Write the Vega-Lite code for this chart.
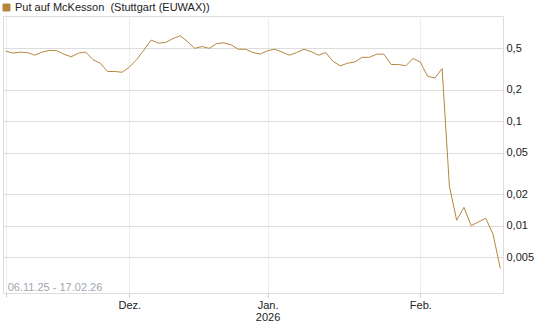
{
  "$schema": "https://vega.github.io/schema/vega-lite/v6.json",
  "width": 500,
  "height": 277,
  "autosize": "none",
  "padding": {"left": 3, "top": 16, "right": 42, "bottom": 34},
  "background": "white",
  "config": {
    "font": "Liberation Sans",
    "view": {"stroke": "#dddddd"}
  },
  "layer": [
    {
      "data": {
        "values": [
          {"date": "2025-11-06", "value": 0.47, "name": "Put auf McKesson\u00a0 (Stuttgart (EUWAX))"},
          {"date": "2025-11-07", "value": 0.45, "name": "Put auf McKesson\u00a0 (Stuttgart (EUWAX))"},
          {"date": "2025-11-10", "value": 0.46, "name": "Put auf McKesson\u00a0 (Stuttgart (EUWAX))"},
          {"date": "2025-11-11", "value": 0.455, "name": "Put auf McKesson\u00a0 (Stuttgart (EUWAX))"},
          {"date": "2025-11-12", "value": 0.43, "name": "Put auf McKesson\u00a0 (Stuttgart (EUWAX))"},
          {"date": "2025-11-13", "value": 0.46, "name": "Put auf McKesson\u00a0 (Stuttgart (EUWAX))"},
          {"date": "2025-11-14", "value": 0.478, "name": "Put auf McKesson\u00a0 (Stuttgart (EUWAX))"},
          {"date": "2025-11-17", "value": 0.475, "name": "Put auf McKesson\u00a0 (Stuttgart (EUWAX))"},
          {"date": "2025-11-18", "value": 0.44, "name": "Put auf McKesson\u00a0 (Stuttgart (EUWAX))"},
          {"date": "2025-11-19", "value": 0.415, "name": "Put auf McKesson\u00a0 (Stuttgart (EUWAX))"},
          {"date": "2025-11-20", "value": 0.45, "name": "Put auf McKesson\u00a0 (Stuttgart (EUWAX))"},
          {"date": "2025-11-21", "value": 0.46, "name": "Put auf McKesson\u00a0 (Stuttgart (EUWAX))"},
          {"date": "2025-11-24", "value": 0.39, "name": "Put auf McKesson\u00a0 (Stuttgart (EUWAX))"},
          {"date": "2025-11-25", "value": 0.36, "name": "Put auf McKesson\u00a0 (Stuttgart (EUWAX))"},
          {"date": "2025-11-26", "value": 0.30, "name": "Put auf McKesson\u00a0 (Stuttgart (EUWAX))"},
          {"date": "2025-11-27", "value": 0.30, "name": "Put auf McKesson\u00a0 (Stuttgart (EUWAX))"},
          {"date": "2025-11-28", "value": 0.295, "name": "Put auf McKesson\u00a0 (Stuttgart (EUWAX))"},
          {"date": "2025-12-01", "value": 0.33, "name": "Put auf McKesson\u00a0 (Stuttgart (EUWAX))"},
          {"date": "2025-12-02", "value": 0.39, "name": "Put auf McKesson\u00a0 (Stuttgart (EUWAX))"},
          {"date": "2025-12-03", "value": 0.48, "name": "Put auf McKesson\u00a0 (Stuttgart (EUWAX))"},
          {"date": "2025-12-04", "value": 0.60, "name": "Put auf McKesson\u00a0 (Stuttgart (EUWAX))"},
          {"date": "2025-12-05", "value": 0.56, "name": "Put auf McKesson\u00a0 (Stuttgart (EUWAX))"},
          {"date": "2025-12-08", "value": 0.57, "name": "Put auf McKesson\u00a0 (Stuttgart (EUWAX))"},
          {"date": "2025-12-09", "value": 0.62, "name": "Put auf McKesson\u00a0 (Stuttgart (EUWAX))"},
          {"date": "2025-12-10", "value": 0.66, "name": "Put auf McKesson\u00a0 (Stuttgart (EUWAX))"},
          {"date": "2025-12-11", "value": 0.58, "name": "Put auf McKesson\u00a0 (Stuttgart (EUWAX))"},
          {"date": "2025-12-12", "value": 0.50, "name": "Put auf McKesson\u00a0 (Stuttgart (EUWAX))"},
          {"date": "2025-12-15", "value": 0.52, "name": "Put auf McKesson\u00a0 (Stuttgart (EUWAX))"},
          {"date": "2025-12-16", "value": 0.50, "name": "Put auf McKesson\u00a0 (Stuttgart (EUWAX))"},
          {"date": "2025-12-17", "value": 0.555, "name": "Put auf McKesson\u00a0 (Stuttgart (EUWAX))"},
          {"date": "2025-12-18", "value": 0.565, "name": "Put auf McKesson\u00a0 (Stuttgart (EUWAX))"},
          {"date": "2025-12-19", "value": 0.54, "name": "Put auf McKesson\u00a0 (Stuttgart (EUWAX))"},
          {"date": "2025-12-22", "value": 0.49, "name": "Put auf McKesson\u00a0 (Stuttgart (EUWAX))"},
          {"date": "2025-12-23", "value": 0.49, "name": "Put auf McKesson\u00a0 (Stuttgart (EUWAX))"},
          {"date": "2025-12-29", "value": 0.455, "name": "Put auf McKesson\u00a0 (Stuttgart (EUWAX))"},
          {"date": "2025-12-30", "value": 0.44, "name": "Put auf McKesson\u00a0 (Stuttgart (EUWAX))"},
          {"date": "2026-01-02", "value": 0.475, "name": "Put auf McKesson\u00a0 (Stuttgart (EUWAX))"},
          {"date": "2026-01-05", "value": 0.49, "name": "Put auf McKesson\u00a0 (Stuttgart (EUWAX))"},
          {"date": "2026-01-06", "value": 0.46, "name": "Put auf McKesson\u00a0 (Stuttgart (EUWAX))"},
          {"date": "2026-01-07", "value": 0.43, "name": "Put auf McKesson\u00a0 (Stuttgart (EUWAX))"},
          {"date": "2026-01-08", "value": 0.455, "name": "Put auf McKesson\u00a0 (Stuttgart (EUWAX))"},
          {"date": "2026-01-09", "value": 0.49, "name": "Put auf McKesson\u00a0 (Stuttgart (EUWAX))"},
          {"date": "2026-01-12", "value": 0.465, "name": "Put auf McKesson\u00a0 (Stuttgart (EUWAX))"},
          {"date": "2026-01-13", "value": 0.43, "name": "Put auf McKesson\u00a0 (Stuttgart (EUWAX))"},
          {"date": "2026-01-14", "value": 0.455, "name": "Put auf McKesson\u00a0 (Stuttgart (EUWAX))"},
          {"date": "2026-01-15", "value": 0.375, "name": "Put auf McKesson\u00a0 (Stuttgart (EUWAX))"},
          {"date": "2026-01-16", "value": 0.34, "name": "Put auf McKesson\u00a0 (Stuttgart (EUWAX))"},
          {"date": "2026-01-19", "value": 0.36, "name": "Put auf McKesson\u00a0 (Stuttgart (EUWAX))"},
          {"date": "2026-01-20", "value": 0.37, "name": "Put auf McKesson\u00a0 (Stuttgart (EUWAX))"},
          {"date": "2026-01-21", "value": 0.41, "name": "Put auf McKesson\u00a0 (Stuttgart (EUWAX))"},
          {"date": "2026-01-22", "value": 0.41, "name": "Put auf McKesson\u00a0 (Stuttgart (EUWAX))"},
          {"date": "2026-01-23", "value": 0.44, "name": "Put auf McKesson\u00a0 (Stuttgart (EUWAX))"},
          {"date": "2026-01-26", "value": 0.44, "name": "Put auf McKesson\u00a0 (Stuttgart (EUWAX))"},
          {"date": "2026-01-27", "value": 0.35, "name": "Put auf McKesson\u00a0 (Stuttgart (EUWAX))"},
          {"date": "2026-01-28", "value": 0.35, "name": "Put auf McKesson\u00a0 (Stuttgart (EUWAX))"},
          {"date": "2026-01-29", "value": 0.34, "name": "Put auf McKesson\u00a0 (Stuttgart (EUWAX))"},
          {"date": "2026-01-30", "value": 0.40, "name": "Put auf McKesson\u00a0 (Stuttgart (EUWAX))"},
          {"date": "2026-02-02", "value": 0.37, "name": "Put auf McKesson\u00a0 (Stuttgart (EUWAX))"},
          {"date": "2026-02-03", "value": 0.27, "name": "Put auf McKesson\u00a0 (Stuttgart (EUWAX))"},
          {"date": "2026-02-04", "value": 0.26, "name": "Put auf McKesson\u00a0 (Stuttgart (EUWAX))"},
          {"date": "2026-02-05", "value": 0.32, "name": "Put auf McKesson\u00a0 (Stuttgart (EUWAX))"},
          {"date": "2026-02-06", "value": 0.024, "name": "Put auf McKesson\u00a0 (Stuttgart (EUWAX))"},
          {"date": "2026-02-09", "value": 0.0113, "name": "Put auf McKesson\u00a0 (Stuttgart (EUWAX))"},
          {"date": "2026-02-10", "value": 0.015, "name": "Put auf McKesson\u00a0 (Stuttgart (EUWAX))"},
          {"date": "2026-02-11", "value": 0.010, "name": "Put auf McKesson\u00a0 (Stuttgart (EUWAX))"},
          {"date": "2026-02-12", "value": 0.0109, "name": "Put auf McKesson\u00a0 (Stuttgart (EUWAX))"},
          {"date": "2026-02-13", "value": 0.0118, "name": "Put auf McKesson\u00a0 (Stuttgart (EUWAX))"},
          {"date": "2026-02-16", "value": 0.0083, "name": "Put auf McKesson\u00a0 (Stuttgart (EUWAX))"},
          {"date": "2026-02-17", "value": 0.0039, "name": "Put auf McKesson\u00a0 (Stuttgart (EUWAX))"}
        ]
      },
      "mark": {"type": "line", "strokeWidth": 1, "interpolate": "linear"},
      "encoding": {
        "x": {
          "field": "date",
          "type": "ordinal",
          "scale": {"type": "point", "padding": 0.37},
          "axis": {
            "title": null,
            "values": ["2025-11-06", "2025-12-01", "2026-01-02", "2026-02-02"],
            "labelExpr": "datum.value == '2025-12-01' ? 'Dez.' : datum.value == '2026-01-02' ? ['Jan.', '2026'] : datum.value == '2026-02-02' ? 'Feb.' : ''",
            "labelAngle": 0,
            "labelFontSize": 11,
            "labelColor": "#222222",
            "labelPadding": 2,
            "labelLineHeight": 12,
            "labelBaseline": "top",
            "grid": true,
            "gridColor": "#eeeeee",
            "domainColor": "#dddddd",
            "tickColor": "#cccccc",
            "tickSize": 4
          }
        },
        "y": {
          "field": "value",
          "type": "quantitative",
          "scale": {"type": "log", "domain": [0.00227, 1.02], "nice": false, "zero": false},
          "axis": {
            "title": null,
            "orient": "right",
            "values": [0.005, 0.01, 0.02, 0.05, 0.1, 0.2, 0.5],
            "labelExpr": "replace(toString(datum.value), '.', ',')",
            "labelFontSize": 11,
            "labelColor": "#222222",
            "labelPadding": 3,
            "ticks": false,
            "domain": false,
            "grid": true,
            "gridColor": "#dddddd"
          }
        },
        "color": {
          "field": "name",
          "type": "nominal",
          "scale": {"range": ["#b5873e"]},
          "legend": {
            "title": null,
            "orient": "none",
            "legendX": -2,
            "legendY": -14,
            "padding": 0,
            "symbolType": "square",
            "symbolSize": 49,
            "labelFontSize": 11,
            "labelColor": "#222222",
            "labelOffset": 3,
            "labelLimit": 400,
            "encode": {
              "symbols": {"update": {"fill": {"value": "#b5873e"}, "stroke": {"value": "#4a3a25"}, "strokeWidth": {"value": 1}}}
            }
          }
        }
      }
    },
    {
      "data": {"values": [{"date": "2025-11-06", "v": 0.00235, "label": "06.11.25 - 17.02.26"}]},
      "mark": {"type": "text", "align": "left", "baseline": "alphabetic", "dx": 2, "fontSize": 11, "color": "#9ea6b0"},
      "encoding": {
        "x": {"field": "date", "type": "ordinal"},
        "y": {"field": "v", "type": "quantitative"},
        "text": {"field": "label"}
      }
    }
  ]
}
